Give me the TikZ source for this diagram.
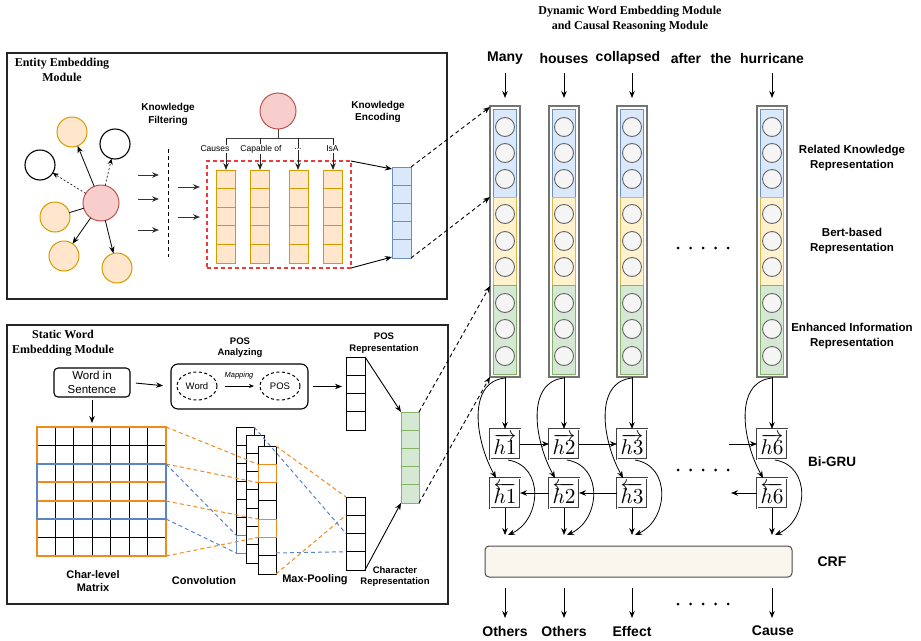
\documentclass[tikz,border=0pt]{standalone}
\usepackage{graphicx}
\usepackage{fontspec}
\setmainfont{Liberation Sans}
\newfontfamily\titlefont{Liberation Serif}
\usetikzlibrary{arrows.meta,calc,shapes.geometric}
\definecolor{pinkF}{HTML}{F8CECC}\definecolor{pinkD}{HTML}{B85450}
\definecolor{orF}{HTML}{FFE6CC}\definecolor{orD}{HTML}{D79B00}
\definecolor{blF}{HTML}{DAE8FC}\definecolor{blD}{HTML}{6C8EBF}
\definecolor{yeF}{HTML}{FFF2CC}\definecolor{yeD}{HTML}{D6B656}
\definecolor{grF}{HTML}{D5E8D4}\definecolor{grD}{HTML}{82B366}
\definecolor{ciF}{HTML}{F5F5F5}\definecolor{ciD}{HTML}{666666}
\definecolor{mOr}{HTML}{F08A1C}\definecolor{mBl}{HTML}{5B84C4}
\definecolor{redD}{HTML}{F03A3A}\definecolor{crfF}{HTML}{F9F7ED}
\newcommand\fsz[2]{\fontsize{#1}{#2}\selectfont}
\newcommand\hlab[1]{\resizebox{23pt}{!}{$#1$}}
\begin{document}
\begin{tikzpicture}[x=1pt,y=-1pt,
 every node/.style={inner sep=0pt,outer sep=0pt},
 arr/.style={-{Stealth[length=7pt,width=5.5pt]},line width=0.9pt},
 darr/.style={-{Stealth[length=7pt,width=5.5pt]},line width=0.9pt,dash pattern=on 4pt off 3pt},
 tdarr/.style={-{Stealth[length=6pt,width=5pt]},line width=0.6pt,dash pattern=on 2pt off 2pt},
 modbox/.style={draw=black!85,line width=1.1pt,anchor=north west},
 ttl/.style={font=\titlefont\fsz{12}{15}\bfseries,align=center},
 lbl/.style={font=\fsz{10}{12.5}\bfseries,align=center},
 rlbl/.style={font=\fsz{11.5}{15}\bfseries,align=center},
 word/.style={font=\fsz{14}{16}\bfseries},
 pinkc/.style={circle,draw=pinkD,fill=pinkF,line width=1pt,minimum size=36pt},
 orc/.style={circle,draw=orD,fill=orF,line width=1pt,minimum size=30pt},
 blkc/.style={circle,draw=black,fill=white,line width=1.1pt,minimum size=30pt},
 nc/.style={circle,draw=ciD,fill=ciF,line width=0.9pt,minimum size=19pt},
 hbox/.style={draw=black!75,double=white,double distance=1pt,line width=0.6pt,fill=white,minimum size=30pt},
 relab/.style={font=\fsz{8.5}{10},fill=white,inner sep=1pt}
]
\useasboundingbox (0,0) rectangle (921,640);

% ================= Entity Embedding Module =================
\node[modbox,minimum width=440pt,minimum height=246pt] (entbox) at (7,53) {};
\node[ttl] (enttitle) at (62,69.5) {Entity Embedding\\Module};
\node[pinkc] (c0) at (101,203) {};
\node[orc] (o1) at (72,132) {};
\node[blkc] (b1) at (115,144) {};
\node[blkc] (b2) at (40,165) {};
\node[orc] (o2) at (55,217) {};
\node[orc] (o3) at (64,256) {};
\node[orc] (o4) at (117,268) {};
\draw[arr,line width=0.8pt] (c0) -- (o1);
\draw[tdarr] (c0) -- (b1);
\draw[tdarr] (c0) -- (b2);
\draw[line width=0.8pt] (c0) -- (o2);
\draw[arr,line width=0.8pt] (c0) -- (o3);
\draw[arr,line width=0.8pt] (c0) -- (o4);

\node[lbl] (kfl) at (168,114.5) {Knowledge\\Filtering};
\foreach \y/\n in {175/1,199/2,230/3}{
  \coordinate (fa\n) at (138,\y); \coordinate (fb\n) at (159,\y);
  \draw[arr,draw=black!80] (fa\n) -- (fb\n);
}
\coordinate (fl1) at (168,149); \coordinate (fl2) at (168,257);
\draw[line width=1pt,dash pattern=on 4pt off 3pt] (fl1) -- (fl2);
\foreach \y/\n in {187/1,217/2}{
  \coordinate (ga\n) at (178,\y); \coordinate (gb\n) at (200,\y);
  \draw[arr,draw=black!80] (ga\n) -- (gb\n);
}

\node[pinkc] (kc) at (278,111) {};
\coordinate (tj) at (278,138);
\draw[draw=black!75,line width=0.9pt] (kc.south) -- (tj);
\coordinate (tl) at (226,138); \coordinate (tr) at (333,138);
\draw[draw=black!75,line width=0.9pt] (tl) -- (tr);
\node[draw=redD,dash pattern=on 4pt off 3pt,line width=1.1pt,minimum width=144pt,minimum height=107pt,anchor=north west] (kbox) at (207,161) {};
\foreach \x/\s/\n in {225.5/226/1,259.5/260/2,298.5/298/3,332.5/333/4}{
  \node[draw=orD,fill=orF,line width=1pt,minimum width=19pt,minimum height=93pt,anchor=north] (k\n) at (\x,170) {};
  \foreach \i in {1,...,4} \draw[orD,line width=1pt] (\x-9.5,170+\i*18.6) -- (\x+9.5,170+\i*18.6);
  \coordinate (ts\n) at (\s,138);
  \draw[arr,draw=black!85,line width=0.8pt] (ts\n) -- (\s,170);
}
\node[relab] (r1) at (215,149) {Causes};
\node[relab] (r2) at (261,149) {Capable of};
\node[relab] (r3) at (298,149) {...};
\node[relab] (r4) at (332.5,149) {IsA};

\node[lbl] (kel) at (378,112) {Knowledge\\Encoding};
\node[draw=blD,fill=blF,line width=1pt,minimum width=19pt,minimum height=91pt,anchor=north west] (enc) at (392,167) {};
\foreach \i in {1,...,4} \draw[blD,line width=1pt] (392,167+\i*18.2) -- (411,167+\i*18.2);
\draw[arr] (kbox.north east) -- ($(enc.north west)+(0,2)$);
\draw[arr] (kbox.south east) -- ($(enc.south west)+(0,-1)$);

% ================= Static Word Embedding Module =================
\node[modbox,minimum width=441pt,minimum height=279pt] (stbox) at (7,325) {};
\node[ttl] (sttitle) at (63,343) {Static Word\\Embedding Module};
\node[draw,rounded corners=4pt,line width=1.1pt,minimum width=76pt,minimum height=29pt,align=center,font=\fsz{11.5}{13.5}] (wis) at (92,382.5) {Word in\\Sentence};
\node[font=\fsz{9.5}{11.5}\bfseries,align=center] (posl) at (240,347.5) {POS\\Analyzing};
\node[draw,rounded corners=7pt,line width=1.1pt,minimum width=137pt,minimum height=45pt] (posbox) at (239.5,386.5) {};
\node[ellipse,draw,dash pattern=on 3pt off 2.5pt,line width=1pt,minimum width=40pt,minimum height=28pt,font=\fsz{9.5}{11}] (ew) at (197,386) {Word};
\node[ellipse,draw,dash pattern=on 3pt off 2.5pt,line width=1pt,minimum width=40pt,minimum height=28pt,font=\fsz{9.5}{11}] (ep) at (280,386) {POS};
\node[font=\fsz{7.5}{9}\itshape] (mapl) at (239,376) {Mapping};
\draw[-{Stealth[length=5pt,width=4pt]},line width=0.7pt,shorten <=8pt,shorten >=6pt] (ew) -- (ep);
\draw[arr,shorten <=6pt,shorten >=8pt] (wis.east) -- (posbox.west);
\node[font=\fsz{9.5}{12}\bfseries,align=center] (posrl) at (384,343) {POS\\Representation};
\node[draw,fill=white,line width=1pt,minimum width=19pt,minimum height=73pt,anchor=north west] (posc) at (346,357) {};
\foreach \i in {1,...,3} \draw[line width=1pt] (346,357+\i*18.25) -- (365,357+\i*18.25);
\draw[arr,shorten <=5pt,shorten >=4pt] (posbox.east) -- (posc.west |- posbox.east);
\draw[arr,shorten <=3pt,shorten >=4pt] (wis.south) -- (92,427);

% char-level matrix
\node[minimum width=129pt,minimum height=129pt,anchor=north west] (mat) at (37,427) {};
\foreach \i in {0,...,7}{
  \draw[line width=1pt] (37+\i*18.43,427) -- (37+\i*18.43,556);
  \draw[line width=1pt] (37,427+\i*18.43) -- (166,427+\i*18.43);
}
\draw[mOr,line width=2pt] (37,427) rectangle (166,482);
\draw[mOr,line width=2pt] (37,501) rectangle (166,556);
\draw[mBl,line width=1.8pt] (37,464) rectangle (166,519);
\node[lbl,font=\fsz{11}{13}\bfseries] (cml) at (93,581) {Char-level\\Matrix};

% convolution stacks
\node[draw,fill=white,line width=1pt,minimum width=18pt,minimum height=108pt,anchor=north west] (s1) at (236,427) {};
\foreach \i in {1,...,5} \draw[line width=1pt] (236,427+\i*18) -- (254,427+\i*18);
\draw[mBl,line width=1pt] (236,535) rectangle (254,553);
\node[draw,fill=white,line width=1pt,minimum width=18pt,minimum height=128pt,anchor=north west] (s2) at (246,435) {};
\foreach \i in {1,...,6} \draw[line width=1pt] (246,435+\i*18.29) -- (264,435+\i*18.29);
\node[draw,fill=white,line width=1pt,minimum width=18pt,minimum height=128pt,anchor=north west] (s3) at (258,446) {};
\foreach \i in {1,...,6} \draw[line width=1pt] (258,446+\i*18.29) -- (276,446+\i*18.29);
\draw[mOr,line width=1pt] (258,464.3) rectangle (276,482.6);
\draw[mOr,line width=1pt] (258,519.1) rectangle (276,537.4);
\node[lbl,font=\fsz{11}{13}\bfseries] (convl) at (204,581) {Convolution};
\node[lbl,font=\fsz{11}{13}\bfseries] (mpl) at (315,580) {Max-Pooling};

% character representation
\node[draw,fill=white,line width=1pt,minimum width=19pt,minimum height=73pt,anchor=north west] (charc) at (346,497) {};
\foreach \i in {1,...,3} \draw[line width=1pt] (346,497+\i*18.25) -- (365,497+\i*18.25);
\node[font=\fsz{9.5}{11.5}\bfseries,align=center] (chl) at (395,576.5) {Character\\Representation};

% dashed projection lines
\begin{scope}[mOr,line width=1pt,dash pattern=on 4pt off 3pt]
\draw (mat.north east) -- (258,464.3);
\draw (166,464) -- (258,482.6);
\draw (166,501) -- (258,519.1);
\draw (mat.south east) -- (258,537.4);
\draw (s3.north east) -- (charc.north west);
\draw (s3.south east) -- (346,515.25);
\end{scope}
\begin{scope}[mBl,line width=1pt,dash pattern=on 4pt off 3pt]
\draw (166,464) -- (236,535);
\draw (166,519) -- (236,553);
\draw (s1.north east) -- (346,533.5);
\draw (276,553) -- (346,551.75);
\end{scope}

% green enhanced column
\node[draw=grD,fill=grF,line width=1pt,minimum width=18pt,minimum height=91pt,anchor=north west] (gc) at (401,412) {};
\foreach \i in {1,...,4} \draw[grD,line width=1pt] (401,412+\i*18.2) -- (419,412+\i*18.2);
\draw[arr] (posc.north east) -- (gc.north west);
\draw[arr] (charc.south east) -- (gc.south west);

% ================= Dynamic Word Embedding & Causal Reasoning =================
\node[ttl] (dyntitle) at (630,19.5) {Dynamic Word Embedding Module\\and Causal Reasoning Module};
\node[word] (w1) at (505,58) {Many};
\node[word] (w2) at (564,58) {houses};
\node[word] (w3) at (628,58) {collapsed};
\node[word] (w4) at (686,58) {after};
\node[word] (w5) at (721,58) {the};
\node[word] (w6) at (772,58) {hurricane};

\foreach \cx/\n in {505/1,564/2,632/3,772/4}{
  \node[draw=black!55,line width=1.4pt,fill=white,minimum width=30pt,minimum height=271pt,anchor=north] (col\n) at (\cx,106) {};
  \draw[draw=blD,fill=blF,line width=1pt] (\cx-11.5,109) rectangle (\cx+11.5,197);
  \draw[draw=yeD,fill=yeF,line width=1pt] (\cx-11.5,197) rectangle (\cx+11.5,285);
  \draw[draw=grD,fill=grF,line width=1pt] (\cx-11.5,285) rectangle (\cx+11.5,374);
  \foreach \y in {127,153,179,214,241,267,303,329,356}
    \node[nc] (n\n-\y) at (\cx,\y) {};
  \coordinate (wa\n) at (\cx,73);
  \draw[arr] (wa\n) -- ($(col\n.north)+(0,-8)$);
}
\foreach \d in {0,...,4} \fill (678+\d*12.5,248) circle (1.5pt);
\foreach \d in {0,...,4} \fill (678+\d*12.5,470) circle (1.5pt);
\foreach \d in {0,...,4} \fill (678+\d*12.5,604) circle (1.5pt);

\node[rlbl] (rk) at (852,158.5) {Related Knowledge\\Representation};
\node[rlbl] (rb) at (852,241.5) {Bert-based\\Representation};
\node[rlbl] (re) at (852,336.5) {Enhanced Information\\Representation};

% dashed arrows into column 1
\coordinate (t1) at (490,107);
\coordinate (t2) at (490,197);
\coordinate (t3) at (490,286);
\coordinate (t4) at (490,377);
\draw[darr] (enc.north east) -- (t1);
\draw[darr] (enc.south east) -- (t2);
\draw[darr] (gc.north east) -- (t3);
\draw[darr] (gc.south east) -- (t4);

% Bi-GRU
\foreach \cx/\n/\k in {505/1/1,564/2/2,632/3/3,772/4/6}{
  \node[hbox] (f\n) at (\cx,444) {\hlab{\overrightarrow{h\k}}};
  \node[hbox] (b\n) at (\cx,493) {\hlab{\overleftarrow{h\k}}};
  \draw[arr] (col\n.south) -- (f\n.north);
  \draw[arr,line width=0.8pt] (\cx,378) .. controls (\cx-38,382) and (\cx-30,440) .. (\cx-9,478);
  \draw[arr,line width=0.8pt] (\cx+3,460) .. controls (\cx+40,466) and (\cx+36,520) .. (\cx+3,535);
  \coordinate (bo\n) at (\cx,535);
  \draw[arr] (b\n.south) -- (bo\n);
  \coordinate (oa\n) at (\cx,588); \coordinate (ob\n) at (\cx,618);
  \draw[arr] (oa\n) -- (ob\n);
}
\draw[arr] (f1) -- (f2);
\draw[arr] (f2) -- (f3);
\draw[arr] (b2) -- (b1);
\draw[arr] (b3) -- (b2);
\coordinate (fin) at (729,444);
\draw[arr] (fin) -- (f4);
\coordinate (bout) at (731,493);
\draw[arr] (b4) -- (bout);
\node[font=\fsz{13.5}{16}\bfseries] (bigru) at (832,462) {Bi-GRU};

\node[draw=black!70,fill=crfF,rounded corners=4pt,line width=1pt,minimum width=307pt,minimum height=31pt,anchor=north west] (crf) at (485,546) {};
\node[font=\fsz{14}{16}\bfseries] (crfl) at (832,562) {CRF};

\node[word] (y1) at (505,631) {Others};
\node[word] (y2) at (564,631) {Others};
\node[word] (y3) at (632,631) {Effect};
\node[word] (y4) at (773,631) {Cause};
\end{tikzpicture}
\end{document}
